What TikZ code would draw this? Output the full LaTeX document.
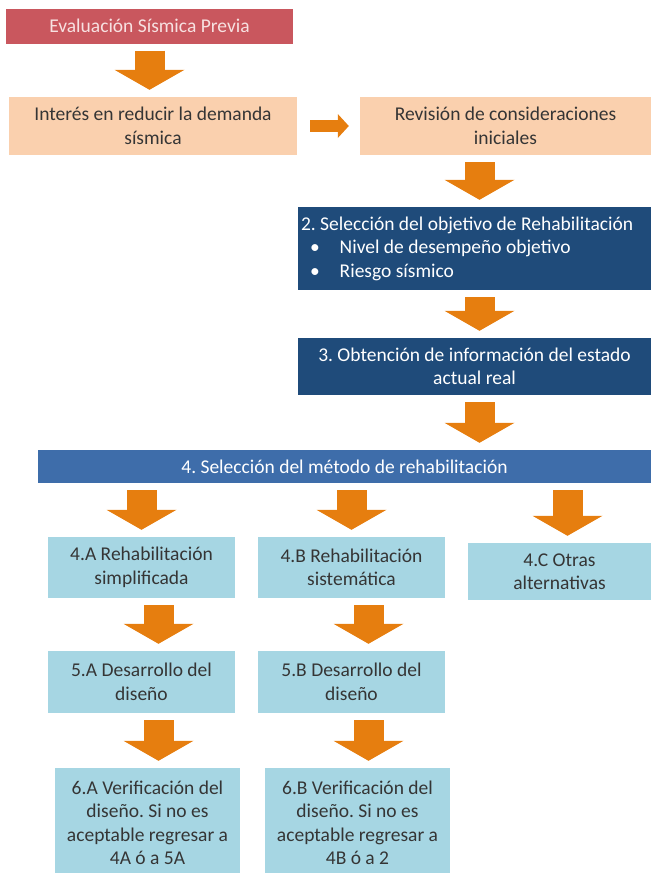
\documentclass[tikz,border=0pt]{standalone}
\usepackage{fontspec}
\setmainfont{Carlito}
\usetikzlibrary{arrows.meta}
\frenchspacing

\definecolor{rojo}{HTML}{C9575E}
\definecolor{rosa}{HTML}{F7E1E1}
\definecolor{durazno}{HTML}{FAD0AE}
\definecolor{naranja}{HTML}{E67E0F}
\definecolor{azuloscuro}{HTML}{1F4B7A}
\definecolor{azulmedio}{HTML}{3E6DAA}
\definecolor{celeste}{HTML}{A6D6E3}
\definecolor{gris}{HTML}{353535}

\begin{document}
\begin{tikzpicture}[x=1pt, y=1pt,
    caja/.style={rectangle, inner sep=3pt, align=center, font=\fontsize{19.5}{23.5}\selectfont},
    flecha/.style={draw=naranja, line width=30pt,
        -{Triangle[width=70pt, length=20pt, line width=0pt]},
        shorten <=7pt, shorten >=7pt},
    flechita/.style={draw=naranja, line width=12pt,
        -{Triangle[width=24pt, length=11pt, line width=0pt]},
        shorten <=13pt, shorten >=11pt}]

    \useasboundingbox (0,0) rectangle (651,-873);

    % 1. Evaluacion previa y consideraciones iniciales
    \node[caja, fill=rojo, text=rosa, minimum width=287pt, minimum height=35pt] (eval) at (149.5,-26) {Evaluación Sísmica Previa};
    \node[caja, fill=durazno, text=gris, minimum width=288pt, minimum height=58pt] (int) at (153,-126) {Interés en reducir la demanda\\sísmica};
    \node[caja, fill=durazno, text=gris, minimum width=291pt, minimum height=58pt] (rev) at (505.5,-126) {Revisión de consideraciones\\iniciales};

    % 2. Objetivo e informacion
    \node[caja, fill=azuloscuro, text=white, minimum width=353pt, minimum height=83pt, text width=347pt, align=flush left] (obj) at (474.5,-248.5)
        {2. Selección del objetivo de Rehabilitación\\
         \hspace*{9pt}•\hspace{20pt}Nivel de desempeño objetivo\\
         \hspace*{9pt}•\hspace{20pt}Riesgo sísmico};
    \node[caja, fill=azuloscuro, text=white, minimum width=353pt, minimum height=57pt] (info) at (474.5,-366.5) {3. Obtención de información del estado\\actual real};

    % 3. Metodo de rehabilitacion
    \node[caja, fill=azulmedio, text=white, minimum width=613pt, minimum height=33pt] (met) at (344.5,-466.5) {4. Selección del método de rehabilitación};

    % 4. Ramas A, B y C
    \node[caja, fill=celeste, text=gris, minimum width=187pt, minimum height=61pt] (a4) at (141.5,-567.5) {4.A Rehabilitación\\simplificada};
    \node[caja, fill=celeste, text=gris, minimum width=187pt, minimum height=61pt] (b4) at (351.5,-567.5) {4.B Rehabilitación\\sistemática};
    \node[caja, fill=celeste, text=gris, minimum width=183pt, minimum height=57pt] (c4) at (559.5,-571.5) {4.C Otras\\alternativas};
    \node[caja, fill=celeste, text=gris, minimum width=187pt, minimum height=62pt] (a5) at (141.5,-682) {5.A Desarrollo del\\diseño};
    \node[caja, fill=celeste, text=gris, minimum width=187pt, minimum height=62pt] (b5) at (351.5,-682) {5.B Desarrollo del\\diseño};
    \node[caja, fill=celeste, text=gris, minimum width=185pt, minimum height=110pt] (a6) at (147.5,-823) {6.A Verificación del\\diseño. Si no es\\aceptable regresar a\\4A ó a 5A};
    \node[caja, fill=celeste, text=gris, minimum width=185pt, minimum height=110pt] (b6) at (357.5,-823) {6.B Verificación del\\diseño. Si no es\\aceptable regresar a\\4B ó a 2};

    % 5. Flechas
    \draw[flecha] (eval.south) -- (eval.south |- int.north);
    \draw[flechita] (int.east) -- (rev.west);
    \draw[flecha] ([xshift=5pt]obj.north |- rev.south) -- ([xshift=5pt]obj.north);
    \draw[flecha] ([xshift=5pt]obj.south) -- ([xshift=5pt]info.north);
    \draw[flecha] ([xshift=5pt]info.south) -- ([xshift=5pt]info.south |- met.north);
    \draw[flecha] (a4.north |- met.south) -- (a4.north);
    \draw[flecha] (b4.north |- met.south) -- (b4.north);
    \draw[flecha] ([xshift=8pt]c4.north |- met.south) -- ([xshift=8pt]c4.north);
    \draw[flecha] ([xshift=17pt]a4.south) -- ([xshift=17pt]a5.north);
    \draw[flecha] ([xshift=17pt]b4.south) -- ([xshift=17pt]b5.north);
    \draw[flecha] ([xshift=17pt]a5.south) -- ([xshift=17pt]a5.south |- a6.north);
    \draw[flecha] ([xshift=17pt]b5.south) -- ([xshift=17pt]b5.south |- b6.north);

\end{tikzpicture}
\end{document}
